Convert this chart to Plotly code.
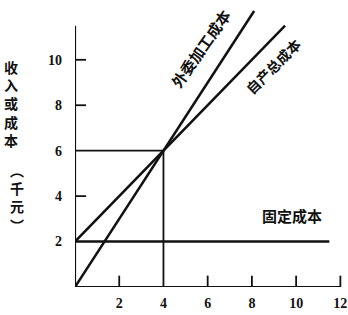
import plotly.graph_objects as go

# data (thousand yuan vs output)
outsource_x = [0, 8.1]
outsource_y = [0, 12.15]          # 外委加工成本, slope 1.5
self_x = [0, 9.5]
self_y = [2, 11.5]                # 自产总成本 = 2 + x
fixed_x = [0, 11.5]
fixed_y = [2, 2]                  # 固定成本
break_x = 4
break_y = 6
x_ticks = [2, 4, 6, 8, 10, 12]
y_ticks = [2, 4, 6, 8, 10]
label_outsource = "外委加工成本"
label_self = "自产总成本"
label_fixed = "固定成本"
y_title_1 = "收入或成本"
y_title_2 = "︵千元︶"

W, H = 348, 315
L, B, T = 75, 28, 3
XR = [0, 12.3]
YR = [0, 12.5]
pw = 265 / 12 * XR[1]
R = W - L - pw
ph = H - B - T

C = "#111111"
LW = 2.5

fig = go.Figure()
def line(xs, ys, w=LW):
    fig.add_trace(go.Scatter(x=xs, y=ys, mode="lines", line=dict(color=C, width=w),
                             cliponaxis=False, hoverinfo="skip", showlegend=False))

# axes
line([0, 0], [0, 11.5], 2.2)
line([0, 12], [0, 0], 2.2)
# data lines
line(outsource_x, outsource_y)
line(self_x, self_y)
line(fixed_x, fixed_y)
line([0, break_x, break_x], [break_y, break_y, 0], 1.8)

# tick marks
for t in [4, 8, 10]:
    line([0, 0.5], [t, t], 1.8)
for t in [2, 6, 8, 10, 12]:
    line([t, t], [0, 0.5], 1.8)

def px(x):
    return (x - L) / pw
def py(y):
    return (H - B - y) / ph

def ann(x, y, text, angle=0, size=13):
    fig.add_annotation(xref="paper", yref="paper", x=px(x), y=py(y), text=text,
                       textangle=angle, showarrow=False,
                       font=dict(family="Noto Sans CJK SC", size=size, color=C),
                       xanchor="center", yanchor="middle")

ann(200, 48, f"<b>{label_outsource}</b>", -55, 15)
ann(273, 66, f"<b>{label_self}</b>", -45, 14)
ann(292, 215, f"<b>{label_fixed}</b>", 0, 15)
ann(11, 103, "<b>" + "<br>".join(y_title_1) + "</b>", size=14)
ann(17, 197, "<b>" + "<br>".join(y_title_2) + "</b>", size=14)

tick_font = dict(family="Liberation Serif", size=14, color=C)
fig.update_layout(
    width=W, height=H,
    margin=dict(l=L, r=R, t=T, b=B, autoexpand=False),
    paper_bgcolor="white", plot_bgcolor="white",
    xaxis=dict(range=XR, tickvals=x_ticks, ticktext=[f"<b>{v}</b>" for v in x_ticks],
               showgrid=False, zeroline=False, showline=False, ticks="",
               tickfont=tick_font, ticklabelstandoff=6, automargin=False),
    yaxis=dict(range=YR, tickvals=y_ticks, ticktext=[f"<b>{v}</b>" for v in y_ticks],
               showgrid=False, zeroline=False, showline=False, ticks="",
               tickfont=tick_font, ticklabelstandoff=12, automargin=False),
)
fig.write_html("out.html", config={"displayModeBar": False},
               post_script="document.body.style.margin='0';")
